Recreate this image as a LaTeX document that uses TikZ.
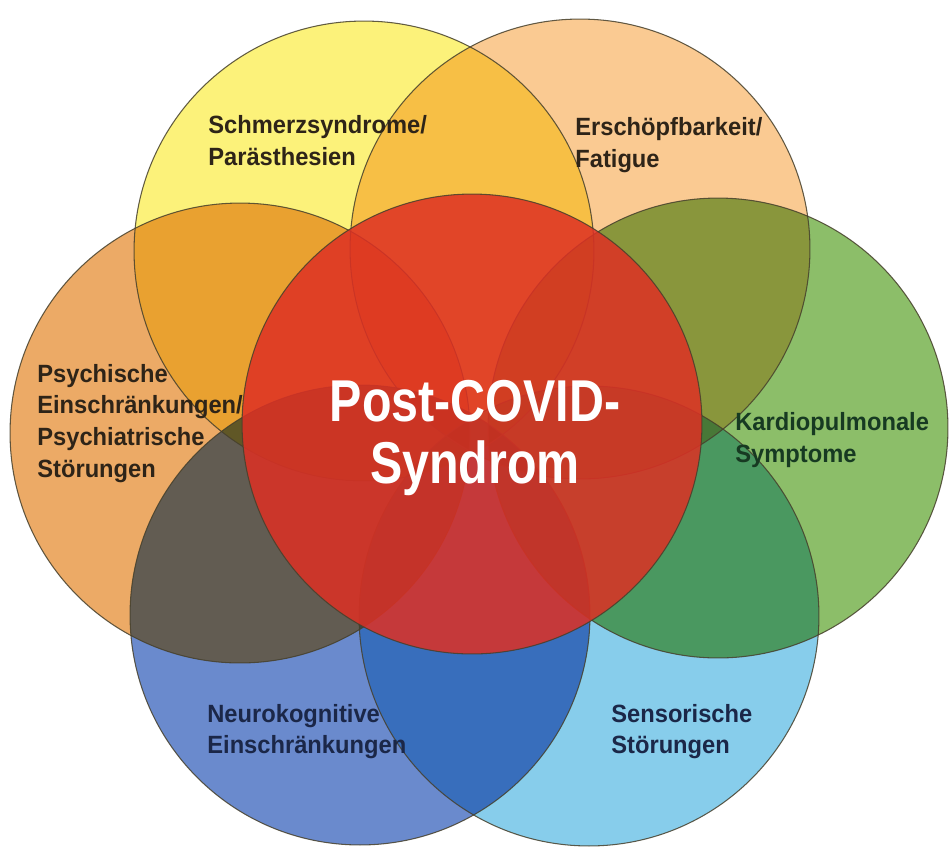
\documentclass[tikz,border=0pt]{standalone}
\usepackage{fontspec}
\newfontfamily\lab{Liberation Sans}[FakeStretch=0.95]
\newfontfamily\ctr{Liberation Sans}[FakeStretch=0.82]
\definecolor{cyel}{RGB}{252,242,122}
\definecolor{cpea}{RGB}{250,202,146}
\definecolor{cora}{RGB}{236,170,102}
\definecolor{cgre}{RGB}{140,190,105}
\definecolor{clbl}{RGB}{135,205,235}
\definecolor{cblu}{RGB}{106,138,205}
\definecolor{cred}{RGB}{222,48,36}
\definecolor{rimc}{RGB}{70,64,44}
\definecolor{twarm}{RGB}{46,36,24}
\definecolor{tgreen}{RGB}{23,58,34}
\definecolor{tnavy}{RGB}{27,39,72}
\begin{document}
\begin{tikzpicture}[x=0.02cm,y=-0.02cm,
  circ/.style={circle,inner sep=0pt,minimum size=9.2cm},
  rim/.style={draw=rimc,line width=0.6pt,draw opacity=0.85},
  lbl/.style={anchor=base west,inner sep=0pt,font=\lab\bfseries\fontsize{14.2pt}{17pt}\selectfont},
  ctrtext/.style={anchor=base,inner sep=0pt,text=white,font=\ctr\bfseries\fontsize{33.6pt}{36pt}\selectfont}]
\useasboundingbox (0,0) rectangle (949,846);
\fill[white] (0,0) rectangle (949,846);
\begin{scope}[blend mode=multiply]
\node[circ,fill=cyel] (yel) at (364,251) {};
\node[circ,fill=cpea] (pea) at (580,249) {};
\node[circ,fill=cora] (ora) at (240,433) {};
\node[circ,fill=cgre] (gre) at (718,428) {};
\node[circ,fill=cblu] (blu) at (360,615) {};
\node[circ,fill=clbl] (lbl) at (589,616) {};
\end{scope}
\foreach \c in {yel,pea,ora,gre,blu,lbl}
  \draw[rim] (\c.center) circle[radius=4.6cm];
\node[circ,fill=cred,fill opacity=0.85,draw=rimc,line width=0.6pt,draw opacity=0.85] (red) at (472,424) {};
% labels
\node[lbl,text=twarm] (y1) at (208,133) {Schmerzsyndrome/};
\node[lbl,text=twarm] (y2) at (208,165) {Parästhesien};
\node[lbl,text=twarm] (e1) at (575,135) {Erschöpfbarkeit/};
\node[lbl,text=twarm] (e2) at (575,167) {Fatigue};
\node[lbl,text=twarm] (o1) at (37,382) {Psychische};
\node[lbl,text=twarm] (o2) at (37,413) {Einschränkungen/};
\node[lbl,text=twarm] (o3) at (37,445) {Psychiatrische};
\node[lbl,text=twarm] (o4) at (37,477) {Störungen};
\node[lbl,text=tgreen] (g1) at (735,430) {Kardiopulmonale};
\node[lbl,text=tgreen] (g2) at (735,462) {Symptome};
\node[lbl,text=tnavy] (n1) at (207,722) {Neurokognitive};
\node[lbl,text=tnavy] (n2) at (207,753) {Einschränkungen};
\node[lbl,text=tnavy] (s1) at (611,722) {Sensorische};
\node[lbl,text=tnavy] (s2) at (611,753) {Störungen};
\node[ctrtext] (p1) at (475,421) {Post-COVID-};
\node[ctrtext] (p2) at (475,483) {Syndrom};
\end{tikzpicture}
\end{document}
